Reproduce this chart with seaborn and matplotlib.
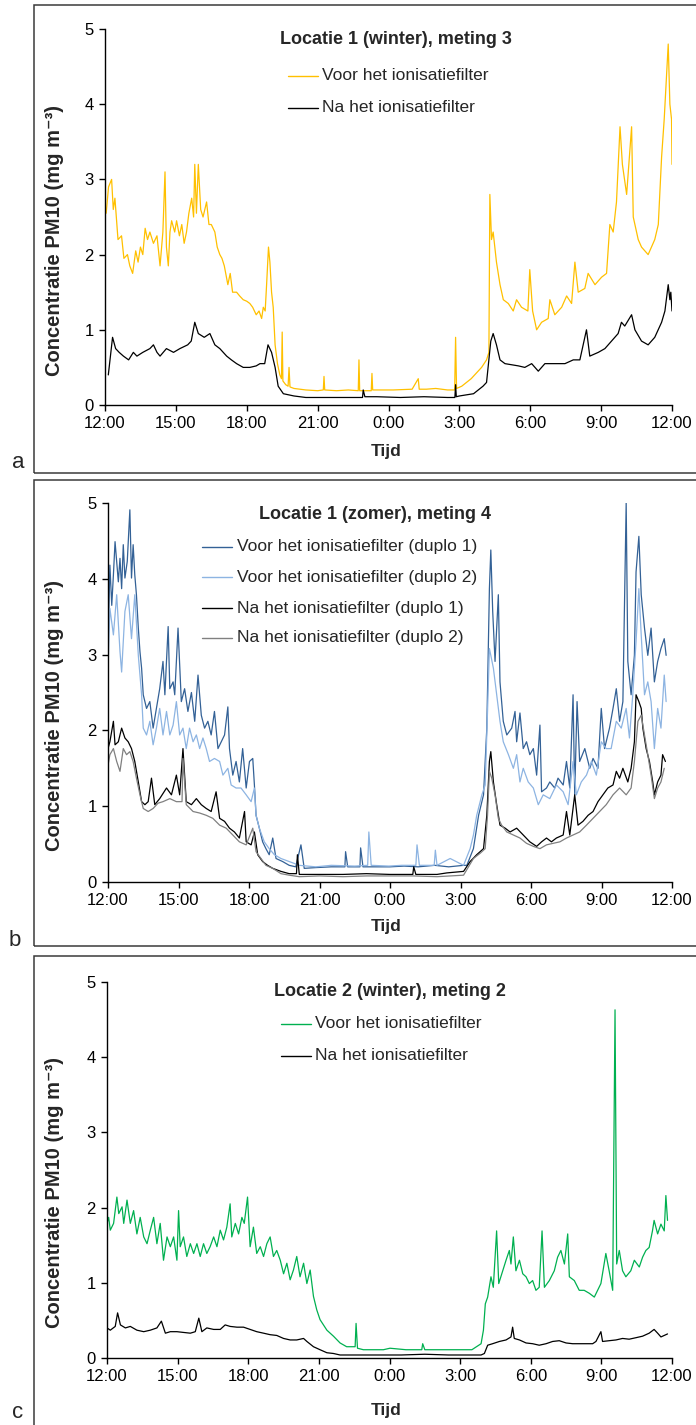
import matplotlib
matplotlib.use("Agg")
import matplotlib.pyplot as plt
import seaborn as sns
import numpy as np
import pandas as pd
from matplotlib.patches import Rectangle
from matplotlib.lines import Line2D

# ---------------- DATA (hours after 12:00, PM10 mg/m3) ----------------
tick_hours = [0, 3, 6, 9, 12, 15, 18, 21, 24]
tick_labels = ["12:00", "15:00", "18:00", "21:00", "0:00", "3:00", "6:00", "9:00", "12:00"]

titles = ["Locatie 1 (winter), meting 3", "Locatie 1 (zomer), meting 4", "Locatie 2 (winter), meting 2"]
labels_a = ["Voor het ionisatiefilter", "Na het ionisatiefilter"]
labels_b = ["Voor het ionisatiefilter (duplo 1)", "Voor het ionisatiefilter (duplo 2)",
            "Na het ionisatiefilter (duplo 1)", "Na het ionisatiefilter (duplo 2)"]
labels_c = ["Voor het ionisatiefilter", "Na het ionisatiefilter"]

a_voor = [(0.05,2.55),(0.15,2.9),(0.28,3.0),(0.35,2.6),(0.42,2.75),(0.55,2.2),(0.7,2.25),(0.8,1.95),
          (0.95,2.0),(1.05,1.85),(1.17,1.75),(1.3,2.05),(1.4,1.9),(1.5,2.1),(1.6,2.0),(1.7,2.35),(1.8,2.2),
          (1.9,2.3),(2.05,2.15),(2.2,2.25),(2.33,1.85),(2.45,2.3),(2.54,3.1),(2.6,2.1),(2.68,1.85),(2.75,2.3),
          (2.82,2.45),(2.95,2.3),(3.03,2.45),(3.15,2.25),(3.25,2.4),(3.35,2.15),(3.45,2.3),(3.55,2.55),
          (3.67,2.75),(3.75,2.5),(3.8,3.2),(3.87,2.55),(3.95,3.2),(4.05,2.6),(4.15,2.5),(4.3,2.7),(4.4,2.4),
          (4.5,2.4),(4.65,2.3),(4.75,2.1),(4.86,2.0),(4.95,1.95),(5.05,1.85),(5.2,1.6),(5.3,1.75),(5.4,1.5),
          (5.57,1.5),(5.7,1.45),(5.85,1.4),(6.0,1.38),(6.13,1.35),(6.25,1.3),(6.4,1.2),(6.52,1.25),(6.63,1.15),
          (6.7,1.3),(6.78,1.25),(6.84,1.6),(6.92,2.1),(6.98,1.9),(7.05,1.5),(7.12,1.3),(7.2,0.8),(7.3,0.55),
          (7.4,0.4),(7.47,0.35),(7.5,0.97),(7.53,0.32),(7.65,0.27),(7.75,0.25),(7.79,0.5),(7.83,0.24),
          (8.0,0.22),(8.5,0.2),(9.0,0.19),(9.24,0.2),(9.27,0.38),(9.3,0.2),(9.8,0.19),(10.3,0.2),(10.72,0.19),
          (10.75,0.6),(10.78,0.19),(11.27,0.19),(11.3,0.42),(11.33,0.2),(11.7,0.2),(12.2,0.2),(13.0,0.21),
          (13.26,0.35),(13.3,0.21),(13.6,0.21),(14.0,0.22),(14.5,0.2),(14.8,0.2),(14.84,0.9),(14.88,0.22),
          (15.1,0.25),(15.5,0.35),(15.94,0.5),(16.15,0.6),(16.25,0.7),(16.29,2.8),(16.36,2.2),(16.43,2.3),
          (16.57,1.9),(16.72,1.6),(16.86,1.4),(17.07,1.35),(17.28,1.25),(17.42,1.4),(17.63,1.3),(17.9,1.25),
          (17.98,1.8),(18.1,1.25),(18.27,1.0),(18.48,1.1),(18.76,1.15),(18.83,1.4),(19.04,1.2),(19.33,1.3),
          (19.54,1.45),(19.75,1.35),(19.89,1.9),(20.03,1.5),(20.31,1.55),(20.45,1.75),(20.74,1.6),(21.02,1.7),
          (21.23,1.75),(21.37,2.4),(21.51,2.3),(21.65,2.7),(21.8,3.7),(21.9,3.2),(22.08,2.8),(22.29,3.7),
          (22.36,2.5),(22.57,2.2),(22.71,2.1),(22.99,2.0),(23.27,2.2),(23.42,2.4),(23.56,3.3),(23.67,3.8),
          (23.84,4.8),(23.91,4.0),(23.98,3.8),(24.0,3.2)]

a_na = [(0.14,0.4),(0.32,0.9),(0.45,0.75),(0.6,0.7),(0.78,0.65),(1.0,0.6),(1.2,0.7),(1.35,0.65),(1.6,0.7),
        (1.9,0.75),(2.05,0.8),(2.2,0.7),(2.33,0.65),(2.6,0.75),(2.9,0.7),(3.17,0.75),(3.5,0.8),(3.65,0.85),
        (3.8,1.1),(3.95,0.95),(4.2,0.9),(4.44,0.95),(4.65,0.8),(4.86,0.75),(5.15,0.65),(5.35,0.6),(5.57,0.55),
        (5.85,0.5),(6.13,0.5),(6.4,0.52),(6.56,0.55),(6.76,0.55),(6.9,0.8),(7.05,0.7),(7.2,0.5),(7.33,0.25),
        (7.55,0.15),(8.0,0.12),(8.5,0.1),(9.5,0.1),(10.5,0.1),(10.9,0.1),(10.93,0.2),(11.0,0.11),(11.5,0.11),
        (12.5,0.1),(13.5,0.11),(14.5,0.1),(14.81,0.1),(14.84,0.27),(14.87,0.11),(15.0,0.12),(15.6,0.15),
        (16.0,0.25),(16.15,0.3),(16.33,0.85),(16.43,0.95),(16.57,0.8),(16.72,0.6),(16.93,0.55),(17.5,0.52),
        (17.77,0.5),(18.06,0.55),(18.34,0.45),(18.62,0.55),(19.04,0.55),(19.47,0.55),(19.82,0.6),(20.1,0.6),
        (20.38,1.0),(20.52,0.65),(20.88,0.7),(21.16,0.75),(21.44,0.85),(21.72,0.95),(21.86,1.1),(22.0,1.05),
        (22.29,1.2),(22.43,1.0),(22.71,0.85),(22.99,0.8),(23.27,0.9),(23.56,1.1),(23.7,1.25),(23.84,1.6),
        (23.91,1.4),(23.95,1.5),(24.0,1.25)]

b_voor1 = [(0.0,3.43),(0.01,3.21),(0.08,4.18),(0.16,3.65),(0.23,4.05),(0.3,4.49),(0.37,4.23),(0.44,3.96),
           (0.51,4.27),(0.58,3.87),(0.65,4.45),(0.72,4.01),(0.82,4.23),(0.93,4.91),(1.0,4.01),(1.07,4.45),
           (1.14,4.05),(1.21,3.79),(1.29,3.35),(1.36,3.04),(1.43,2.82),(1.5,2.47),(1.64,2.29),(1.78,2.38),
           (1.92,2.03),(2.06,2.29),(2.2,2.55),(2.34,2.91),(2.42,2.47),(2.56,3.37),(2.63,2.55),(2.77,2.64),
           (2.84,2.47),(2.98,3.35),(3.12,2.38),(3.26,2.55),(3.4,2.25),(3.55,2.5),(3.69,2.12),(3.83,2.73),
           (3.97,2.2),(4.11,2.03),(4.25,2.12),(4.39,1.94),(4.53,2.25),(4.68,1.76),(4.82,1.85),(4.96,1.94),
           (5.1,2.31),(5.17,1.76),(5.31,1.41),(5.45,1.59),(5.59,1.32),(5.73,1.76),(5.88,1.24),(6.02,1.59),
           (6.16,1.63),(6.23,1.28),(6.3,0.88),(6.44,0.71),(6.58,0.53),(6.72,0.44),(6.86,0.36),(7.01,0.58),
           (7.15,0.31),(7.43,0.27),(7.71,0.22),(7.99,0.2),(8.21,0.49),(8.35,0.18),(8.84,0.19),(9.5,0.2),
           (10.08,0.2),(10.11,0.4),(10.2,0.2),(10.72,0.2),(10.75,0.45),(10.85,0.2),(11.5,0.2),(12.0,0.2),
           (12.6,0.21),(13.2,0.2),(13.9,0.22),(14.5,0.2),(15.13,0.22),(15.27,0.22),(15.55,0.44),(15.77,0.88),
           (15.98,1.15),(16.12,2.03),(16.23,3.87),(16.29,4.38),(16.37,3.57),(16.47,2.91),(16.61,3.79),
           (16.68,2.64),(16.82,2.12),(16.97,1.94),(17.18,2.03),(17.32,2.25),(17.39,1.85),(17.53,2.23),
           (17.67,1.76),(17.81,1.85),(17.95,1.68),(18.1,1.76),(18.24,1.41),(18.38,2.07),(18.45,1.19),
           (18.66,1.24),(18.8,1.32),(19.01,1.24),(19.15,1.37),(19.37,1.28),(19.51,1.59),(19.65,1.24),
           (19.79,2.47),(19.86,1.15),(19.96,2.38),(20.07,1.59),(20.29,1.76),(20.5,1.5),(20.64,1.63),
           (20.85,1.5),(20.99,2.29),(21.13,1.76),(21.34,2.03),(21.49,2.29),(21.63,2.55),(21.77,2.12),
           (21.91,2.38),(22.05,5.0),(22.12,2.91),(22.26,2.47),(22.4,2.99),(22.47,4.09),(22.59,4.56),
           (22.69,3.79),(22.83,3.35),(22.97,2.99),(23.11,3.35),(23.25,2.64),(23.39,2.91),(23.53,3.08),
           (23.67,3.21),(23.75,2.99)]

b_voor2 = [(0.0,2.82),(0.08,3.61),(0.23,3.26),(0.37,3.79),(0.51,3.04),(0.58,2.77),(0.72,3.57),(0.86,3.79),
           (1.0,3.21),(1.14,3.79),(1.29,2.99),(1.43,2.47),(1.5,2.03),(1.64,1.94),(1.78,2.12),(1.92,1.81),
           (2.06,2.03),(2.2,2.29),(2.34,1.94),(2.49,2.25),(2.63,1.94),(2.77,2.07),(2.91,2.38),(3.05,1.94),
           (3.19,2.03),(3.33,1.76),(3.47,2.03),(3.62,1.85),(3.76,1.94),(3.9,1.76),(4.04,1.9),(4.18,1.76),
           (4.32,1.59),(4.53,1.63),(4.75,1.59),(4.89,1.41),(5.1,1.5),(5.24,1.28),(5.45,1.24),(5.66,1.24),
           (5.88,1.15),(6.09,1.06),(6.23,1.24),(6.3,0.88),(6.44,0.71),(6.65,0.53),(6.86,0.44),(7.08,0.36),
           (7.36,0.31),(7.71,0.27),(8.14,0.22),(8.84,0.2),(9.5,0.22),(10.5,0.21),(11.05,0.22),(11.1,0.66),
           (11.2,0.22),(11.95,0.21),(12.5,0.22),(13.1,0.22),(13.15,0.49),(13.25,0.22),(13.88,0.22),(13.93,0.42),
           (14.0,0.22),(14.56,0.31),(15.13,0.22),(15.41,0.44),(15.55,0.62),(15.69,0.88),(15.91,1.15),
           (16.05,1.28),(16.15,2.25),(16.23,3.08),(16.29,2.99),(16.4,2.82),(16.54,2.47),(16.68,2.12),
           (16.82,1.85),(17.04,1.68),(17.25,1.5),(17.39,1.68),(17.53,1.32),(17.67,1.5),(17.88,1.32),
           (18.1,1.24),(18.31,1.02),(18.52,1.15),(18.8,1.1),(19.08,1.28),(19.37,1.19),(19.58,1.02),
           (19.79,1.59),(19.93,1.15),(20.14,1.32),(20.36,1.41),(20.57,1.59),(20.78,1.41),(20.99,1.85),
           (21.2,1.76),(21.41,1.76),(21.63,2.12),(21.84,2.03),(22.05,2.29),(22.19,1.9),(22.33,2.47),
           (22.47,3.17),(22.59,3.87),(22.69,3.26),(22.83,2.47),(22.97,2.64),(23.11,2.38),(23.25,1.76),
           (23.39,2.29),(23.53,2.03),(23.67,2.73),(23.75,2.38)]

b_na1 = [(0.0,1.76),(0.08,1.85),(0.23,2.12),(0.3,1.81),(0.44,1.85),(0.58,2.03),(0.72,1.9),(0.86,1.85),
         (1.0,1.76),(1.14,1.59),(1.29,1.32),(1.43,1.06),(1.57,1.02),(1.71,1.06),(1.85,1.37),(1.99,1.02),
         (2.2,1.1),(2.49,1.24),(2.7,1.15),(2.91,1.41),(3.05,1.15),(3.19,1.76),(3.33,1.06),(3.55,1.02),
         (3.76,1.1),(3.97,1.02),(4.18,0.97),(4.39,0.93),(4.6,1.19),(4.75,0.84),(4.96,0.8),(5.17,0.71),
         (5.38,0.66),(5.59,0.58),(5.81,0.93),(5.88,0.53),(6.09,0.49),(6.23,0.66),(6.37,0.36),(6.58,0.27),
         (6.79,0.22),(7.01,0.18),(7.36,0.14),(7.71,0.11),(8.02,0.11),(8.06,0.36),(8.14,0.1),(9.0,0.1),
         (10.0,0.1),(11.0,0.11),(12.0,0.1),(12.97,0.1),(13.01,0.2),(13.1,0.1),(14.0,0.1),(14.42,0.12),
         (15.13,0.14),(15.41,0.27),(15.69,0.36),(15.98,0.44),(16.12,0.88),(16.23,1.59),(16.29,1.72),
         (16.4,1.32),(16.54,1.02),(16.68,0.75),(16.9,0.71),(17.11,0.66),(17.39,0.71),(17.67,0.62),
         (17.95,0.53),(18.24,0.47),(18.45,0.53),(18.66,0.58),(18.87,0.53),(19.08,0.58),(19.37,0.62),
         (19.51,0.93),(19.65,0.62),(19.86,1.15),(20.0,0.75),(20.21,0.8),(20.43,0.88),(20.64,0.93),
         (20.85,1.06),(21.06,1.15),(21.27,1.24),(21.49,1.28),(21.63,1.46),(21.77,1.37),(21.91,1.5),
         (22.12,1.32),(22.26,1.5),(22.4,1.85),(22.47,2.47),(22.59,2.38),(22.69,2.29),(22.76,2.03),
         (22.9,1.76),(23.04,1.59),(23.18,1.32),(23.25,1.15),(23.39,1.32),(23.53,1.41),(23.6,1.68),(23.72,1.59)]

b_na2 = [(0.0,1.54),(0.08,1.68),(0.23,1.76),(0.37,1.59),(0.51,1.46),(0.65,1.76),(0.79,1.68),(0.93,1.72),
         (1.07,1.59),(1.21,1.37),(1.36,1.15),(1.5,0.97),(1.71,0.93),(1.92,0.97),(2.13,1.04),(2.34,1.06),
         (2.63,1.1),(2.91,1.06),(3.15,1.06),(3.19,1.63),(3.33,1.02),(3.62,0.93),(3.9,0.91),(4.18,0.88),
         (4.46,0.84),(4.75,0.75),(5.03,0.71),(5.31,0.62),(5.59,0.53),(5.88,0.49),(6.16,0.71),(6.3,0.4),
         (6.51,0.31),(6.72,0.22),(7.01,0.18),(7.36,0.11),(7.71,0.09),(8.14,0.07),(9.0,0.08),(10.0,0.07),
         (11.0,0.08),(12.0,0.08),(13.0,0.08),(14.0,0.07),(15.13,0.09),(15.34,0.2),(15.55,0.31),(15.84,0.38),
         (16.05,0.44),(16.15,0.88),(16.23,1.46),(16.33,1.37),(16.47,1.15),(16.61,0.84),(16.75,0.75),
         (16.97,0.66),(17.25,0.62),(17.53,0.58),(17.81,0.51),(18.1,0.47),(18.38,0.44),(18.66,0.49),
         (18.94,0.51),(19.23,0.53),(19.51,0.58),(19.79,0.62),(20.07,0.66),(20.36,0.75),(20.64,0.84),
         (20.92,0.93),(21.2,1.02),(21.49,1.15),(21.77,1.24),(22.05,1.15),(22.26,1.24),(22.4,1.59),
         (22.55,2.12),(22.69,2.2),(22.83,1.94),(22.97,1.68),(23.11,1.41),(23.25,1.1),(23.39,1.24),
         (23.53,1.32),(23.67,1.5)]

c_voor = [(0.0,1.79),(0.07,1.87),(0.14,1.7),(0.28,1.79),(0.42,2.14),(0.5,1.92),(0.64,2.01),(0.71,1.79),
          (0.85,2.1),(0.99,1.79),(1.13,1.96),(1.27,1.65),(1.41,1.87),(1.56,1.61),(1.7,1.52),(1.84,1.7),
          (1.98,1.87),(2.12,1.52),(2.26,1.79),(2.4,1.3),(2.55,1.61),(2.69,1.48),(2.83,1.61),(2.97,1.3),
          (3.04,1.96),(3.11,1.48),(3.25,1.61),(3.39,1.35),(3.54,1.52),(3.68,1.39),(3.82,1.52),(3.96,1.35),
          (4.1,1.52),(4.24,1.39),(4.38,1.48),(4.53,1.61),(4.67,1.48),(4.81,1.7),(4.95,1.57),(5.09,1.74),
          (5.23,2.05),(5.3,1.61),(5.45,1.79),(5.59,1.65),(5.73,1.87),(5.83,1.79),(5.97,2.14),(6.08,1.48),
          (6.22,1.74),(6.36,1.39),(6.51,1.48),(6.65,1.35),(6.79,1.52),(6.93,1.61),(7.07,1.35),(7.21,1.43),
          (7.36,1.3),(7.5,1.12),(7.64,1.26),(7.78,1.04),(7.92,1.17),(8.06,1.35),(8.2,1.08),(8.35,1.26),
          (8.49,0.99),(8.63,1.17),(8.77,0.82),(8.91,0.64),(9.05,0.51),(9.34,0.37),(9.62,0.29),(9.9,0.2),
          (10.18,0.15),(10.54,0.15),(10.58,0.46),(10.64,0.13),(10.89,0.11),(11.32,0.11),(11.74,0.11),
          (12.02,0.13),(12.7,0.11),(13.37,0.11),(13.41,0.19),(13.5,0.11),(14.5,0.11),(15.5,0.11),(15.89,0.19),
          (15.99,0.37),(16.07,0.72),(16.17,0.81),(16.31,1.08),(16.41,0.94),(16.55,1.69),(16.64,0.99),
          (16.81,1.16),(16.95,1.3),(17.09,1.43),(17.16,1.25),(17.26,1.61),(17.37,1.16),(17.52,1.3),
          (17.66,1.12),(17.8,1.08),(17.94,0.99),(18.08,1.03),(18.22,0.9),(18.36,0.94),(18.48,1.69),
          (18.58,0.94),(18.79,1.03),(19.0,1.16),(19.14,1.34),(19.28,1.43),(19.43,1.25),(19.57,1.65),
          (19.64,1.08),(19.85,1.03),(20.06,0.9),(20.27,0.9),(20.49,0.86),(20.7,0.81),(20.84,0.9),
          (20.98,0.99),(21.19,1.39),(21.33,1.16),(21.48,0.9),(21.58,4.63),(21.65,1.25),(21.76,1.43),
          (21.9,1.16),(22.04,1.08),(22.25,1.16),(22.4,1.3),(22.61,1.21),(22.75,1.34),(22.89,1.43),
          (23.03,1.47),(23.17,1.69),(23.24,1.83),(23.39,1.65),(23.53,1.78),(23.67,1.69),(23.74,2.16),(23.81,1.83)]

c_na = [(0.0,0.4),(0.14,0.37),(0.35,0.42),(0.45,0.6),(0.57,0.44),(0.78,0.4),(0.99,0.42),(1.27,0.37),
        (1.56,0.35),(1.84,0.37),(2.12,0.4),(2.31,0.49),(2.48,0.33),(2.69,0.35),(2.97,0.35),(3.25,0.34),
        (3.54,0.33),(3.75,0.35),(3.9,0.53),(4.03,0.35),(4.24,0.4),(4.53,0.38),(4.81,0.38),(5.02,0.44),
        (5.23,0.42),(5.52,0.41),(5.8,0.41),(6.08,0.38),(6.36,0.35),(6.65,0.33),(6.93,0.31),(7.21,0.3),
        (7.5,0.26),(7.78,0.24),(8.06,0.24),(8.35,0.26),(8.49,0.22),(8.77,0.15),(9.05,0.11),(9.34,0.07),
        (9.62,0.06),(9.9,0.04),(10.58,0.04),(11.5,0.04),(12.5,0.04),(13.5,0.05),(14.5,0.04),(15.5,0.04),
        (15.89,0.04),(16.03,0.06),(16.17,0.17),(16.38,0.19),(16.67,0.22),(16.95,0.24),(17.16,0.28),
        (17.23,0.41),(17.3,0.26),(17.52,0.24),(17.8,0.2),(18.08,0.19),(18.36,0.17),(18.65,0.19),
        (18.93,0.22),(19.21,0.23),(19.5,0.2),(19.78,0.19),(20.06,0.19),(20.35,0.19),(20.63,0.19),
        (20.77,0.22),(20.98,0.35),(21.05,0.22),(21.33,0.23),(21.62,0.24),(21.9,0.26),(22.18,0.25),
        (22.47,0.27),(22.75,0.29),(23.03,0.33),(23.24,0.38),(23.39,0.33),(23.53,0.28),(23.67,0.3),(23.81,0.32)]

YELLOW = "#FFC000"
BLACK = "#000000"
DARKBLUE = "#336196"
LIGHTBLUE = "#8DB4E2"
GREY = "#808080"
GREEN = "#00B050"

# ---------------- STYLE ----------------
sns.set_style("ticks")
plt.rcParams["font.family"] = ["Liberation Sans", "DejaVu Sans"]

W, H = 696, 1425
fig = plt.figure(figsize=(W / 100, H / 100), dpi=100)


def fx(px):
    return px / W


def fy(py):
    return 1 - py / H


def make_axes(left, right, top, bottom):
    return fig.add_axes([fx(left), fy(bottom), fx(right) - fx(left), fy(top) - fy(bottom)])


panels = [
    dict(box=(5, 473), ax=(105, 672, 29, 405), letter=("a", 18, 463), tijd=451,
         title=(396, 39), leg=(288, 318, 322, [76, 108]),
         series=[(a_voor, YELLOW, labels_a[0]), (a_na, BLACK, labels_a[1])]),
    dict(box=(480, 946), ax=(108, 672, 503, 882), letter=("b", 15, 940), tijd=927,
         title=(375, 514), leg=(202, 232, 237, [547, 577, 608, 638]),
         series=[(b_voor1, DARKBLUE, labels_b[0]), (b_voor2, LIGHTBLUE, labels_b[1]),
                 (b_na1, BLACK, labels_b[2]), (b_na2, GREY, labels_b[3])]),
    dict(box=(956, 1440), ax=(107, 672, 982, 1358), letter=("c", 18, 1412), tijd=1410,
         title=(390, 992), leg=(281, 311, 315, [1024, 1056]),
         series=[(c_voor, GREEN, labels_c[0]), (c_na, BLACK, labels_c[1])]),
]

for i, p in enumerate(panels):
    top, bot = p["box"]
    fig.patches.append(Rectangle((fx(34), fy(bot)), 1.2, fy(top) - fy(bot), transform=fig.transFigure,
                                 fill=False, ec="#3a3a3a", lw=1.1, zorder=0))
    l, r, t, b = p["ax"]
    ax = make_axes(l, r, t, b)
    ax.patch.set_alpha(0)
    for data, col, lab in p["series"]:
        df = pd.DataFrame(data, columns=["t", "v"])
        sns.lineplot(data=df, x="t", y="v", color=col, lw=0.9, ax=ax, estimator=None, sort=False,
                     legend=False)
    ax.set_xlim(0, 24)
    ax.set_ylim(0, 5)
    ax.set_xticks(tick_hours)
    ax.set_xticklabels(tick_labels)
    ax.set_yticks([0, 1, 2, 3, 4, 5])
    ax.set_xlabel("")
    ax.set_ylabel("")
    for s in ["top", "right"]:
        ax.spines[s].set_visible(False)
    for s in ["left", "bottom"]:
        ax.spines[s].set_color("black")
        ax.spines[s].set_linewidth(1.0)
    ax.tick_params(direction="out", length=4, width=1, labelsize=12, colors="black", pad=4)

    # axis titles
    fig.text(fx(55), fy((t + b) / 2 + 23), "Concentratie PM10 (mg m⁻³)", rotation=90, ha="center",
             va="center", fontsize=14.5, fontweight="bold")
    fig.text(fx(386), fy(p["tijd"]), "Tijd", ha="center", va="center", fontsize=12.5, fontweight="bold")
    # panel letter
    let, lx, ly = p["letter"]
    fig.text(fx(lx), fy(ly), let, ha="center", va="center", fontsize=16)
    # legend (title + entries)
    tx, ty = p["title"]
    fig.text(fx(tx), fy(ty), titles[i], ha="center", va="center", fontsize=13, fontweight="bold")
    x0, x1, xt, rows = p["leg"]
    for (data, col, lab), yy in zip(p["series"], rows):
        fig.lines.append(Line2D([fx(x0), fx(x1)], [fy(yy), fy(yy)], transform=fig.transFigure,
                                color=col, lw=1.0))
        fig.text(fx(xt), fy(yy), lab, ha="left", va="center", fontsize=12.5)

fig.savefig("out.png", dpi=100)
